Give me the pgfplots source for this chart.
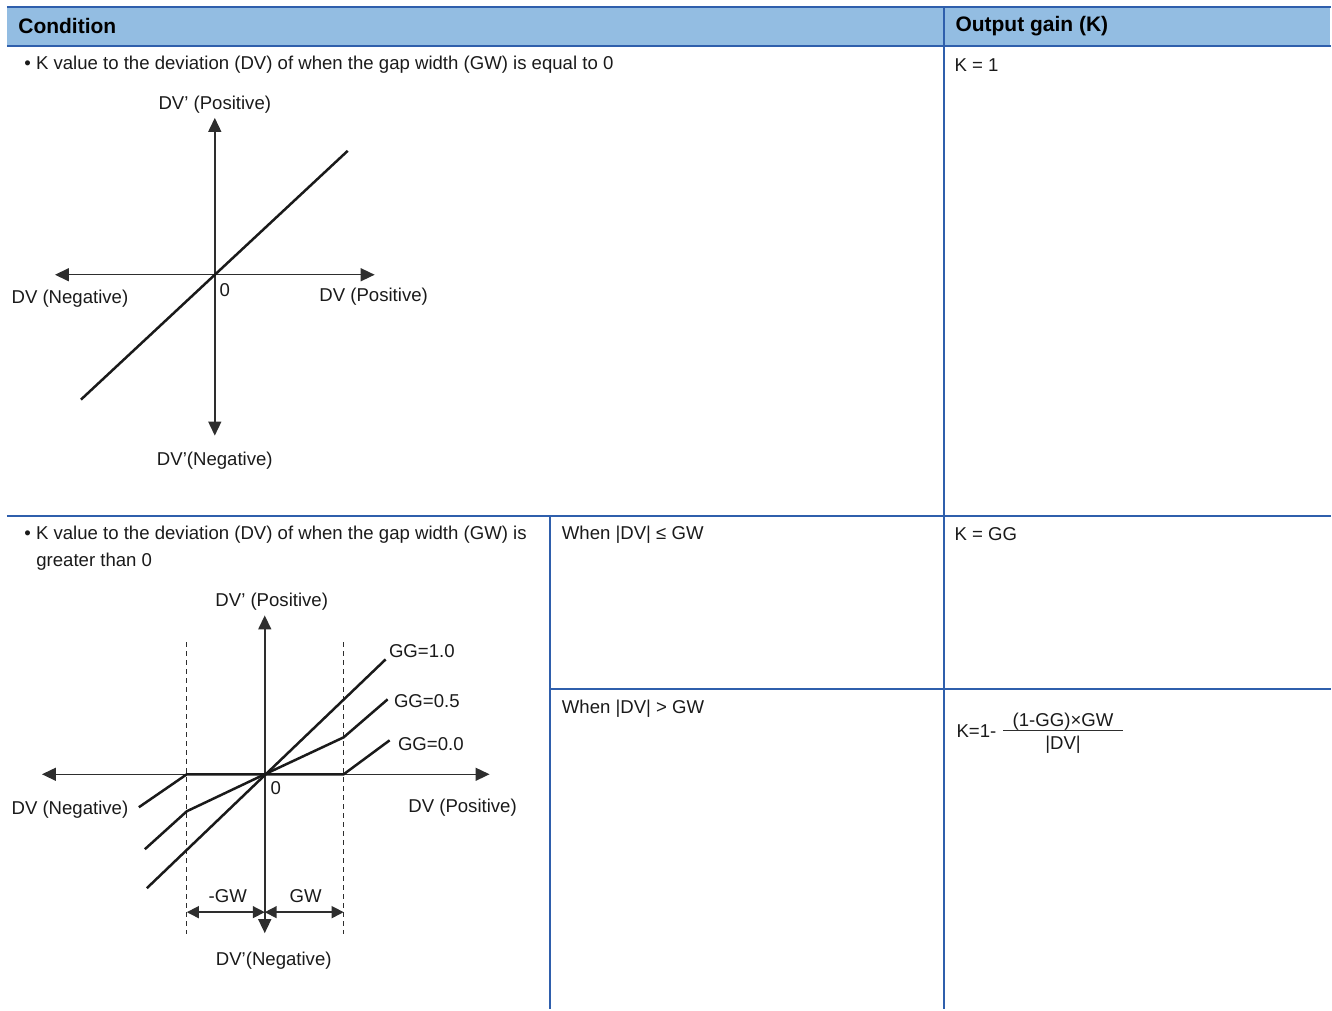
\documentclass[border=0pt]{standalone}
\usepackage{pgfplots}
\pgfplotsset{compat=1.18}
\usepackage{fontspec}
\setmainfont{Liberation Sans}
\usetikzlibrary{arrows.meta}
\definecolor{hdr}{HTML}{93BDE2}
\definecolor{bdr}{HTML}{2F5FAC}
\definecolor{ink}{HTML}{1A1A1A}
\definecolor{axc}{HTML}{2E2E2E}
\tikzset{
  lbl/.style={inner sep=0pt,yshift=-1pt,font=\fontsize{9.3}{11}\selectfont,text=ink},
  hd/.style={inner sep=0pt,yshift=-0.5pt,font=\fontsize{10.5}{12}\selectfont\bfseries,text=black},
  bigb/.style={{Triangle[length=7pt,width=6.5pt]}-{Triangle[length=7pt,width=6.5pt]}},
  sm/.style={{Triangle[length=6pt,width=6pt]}-{Triangle[length=6pt,width=6pt]}}}
\begin{document}
\begin{tikzpicture}
\begin{axis}[width=666pt,height=505pt,scale only axis,
  xmin=0,xmax=1332,ymin=0,ymax=1010,y dir=reverse,
  axis lines=none,clip=false,no markers]
\path (axis cs:0,0) rectangle (axis cs:1332,1010);
% ---- table ----
\addplot[fill=hdr,draw=none] coordinates {(7,7)(1331,7)(1331,46)(7,46)};
\addplot[bdr,line width=1.25pt] coordinates {(7,7)(1332,7)};
\addplot[bdr,line width=1.25pt] coordinates {(7,46)(1332,46)};
\addplot[bdr,line width=1pt] coordinates {(945,7)(945,1010)};
\addplot[bdr,line width=1pt] coordinates {(7,516)(1332,516)};
\addplot[bdr,line width=1pt] coordinates {(551,516)(551,1010)};
\addplot[bdr,line width=1pt] coordinates {(551,690)(1332,690)};
\node[hd,anchor=west] at (axis cs:18,25) {Condition};
\node[hd,anchor=west] at (axis cs:956,25) {Output gain (K)};
\node[lbl,anchor=west] at (axis cs:24,63) {•\ K value to the deviation (DV) of when the gap width (GW) is equal to 0};
\node[lbl,anchor=west] at (axis cs:955,63) {K = 1};
\node[lbl,anchor=west] at (axis cs:24,533) {•\ K value to the deviation (DV) of when the gap width (GW) is};
\node[lbl,anchor=west] at (axis cs:36,560) {greater than 0};
\node[lbl,anchor=west] at (axis cs:562,533) {When |DV| ≤ GW};
\node[lbl,anchor=west] at (axis cs:955,533) {K = GG};
\node[lbl,anchor=west] at (axis cs:562,707) {When |DV| > GW};
\node[lbl,anchor=west] at (axis cs:957,730) {K=1-};
\node[lbl] at (axis cs:1064,720) {(1-GG)×GW};
\node[lbl] at (axis cs:1064,743) {|DV|};
\addplot[axc,line width=0.6pt] coordinates {(1004,731)(1124,731)};
% ---- diagram 1 ----
\addplot[axc,line width=0.75pt,bigb] coordinates {(55,275)(375,275)};
\addplot[axc,line width=0.75pt,bigb] coordinates {(215,118)(215,436)};
\addplot[ink,line width=1.25pt] coordinates {(81,400)(348,151)};
\node[lbl] at (axis cs:215,103) {DV’ (Positive)};
\node[lbl] at (axis cs:70,297) {DV (Negative)};
\node[lbl] at (axis cs:374,295) {DV (Positive)};
\node[lbl] at (axis cs:225,288) {0};
\node[lbl] at (axis cs:215,459) {DV’(Negative)};
% ---- diagram 2 ----
\addplot[axc,line width=0.5pt,dash pattern=on 2.5pt off 2pt] coordinates {(187,643)(187,935)};
\addplot[axc,line width=0.5pt,dash pattern=on 2.5pt off 2pt] coordinates {(344,643)(344,935)};
\addplot[axc,line width=0.75pt,bigb] coordinates {(42,775)(490,775)};
\addplot[axc,line width=0.75pt,bigb] coordinates {(265,616)(265,934)};
\addplot[ink,line width=1.25pt] coordinates {(147,889)(386,660)};
\addplot[ink,line width=1.25pt] coordinates {(145,850)(187,812)(265,775)(344,738)(388,700)};
\addplot[ink,line width=1.25pt] coordinates {(139,808)(187,775)(344,775)(390,741)};
\addplot[axc,line width=0.75pt,sm] coordinates {(187,913)(265,913)};
\addplot[axc,line width=0.75pt,sm] coordinates {(265,913)(344,913)};
\node[lbl] at (axis cs:228,895) {-GW};
\node[lbl] at (axis cs:306,895) {GW};
\node[lbl] at (axis cs:272,600) {DV’ (Positive)};
\node[lbl] at (axis cs:70,808) {DV (Negative)};
\node[lbl] at (axis cs:463,806) {DV (Positive)};
\node[lbl] at (axis cs:276,787) {0};
\node[lbl] at (axis cs:274,960) {DV’(Negative)};
\node[lbl,anchor=west] at (axis cs:389,650) {GG=1.0};
\node[lbl,anchor=west] at (axis cs:394,700) {GG=0.5};
\node[lbl,anchor=west] at (axis cs:398,743) {GG=0.0};
\end{axis}
\end{tikzpicture}
\end{document}
